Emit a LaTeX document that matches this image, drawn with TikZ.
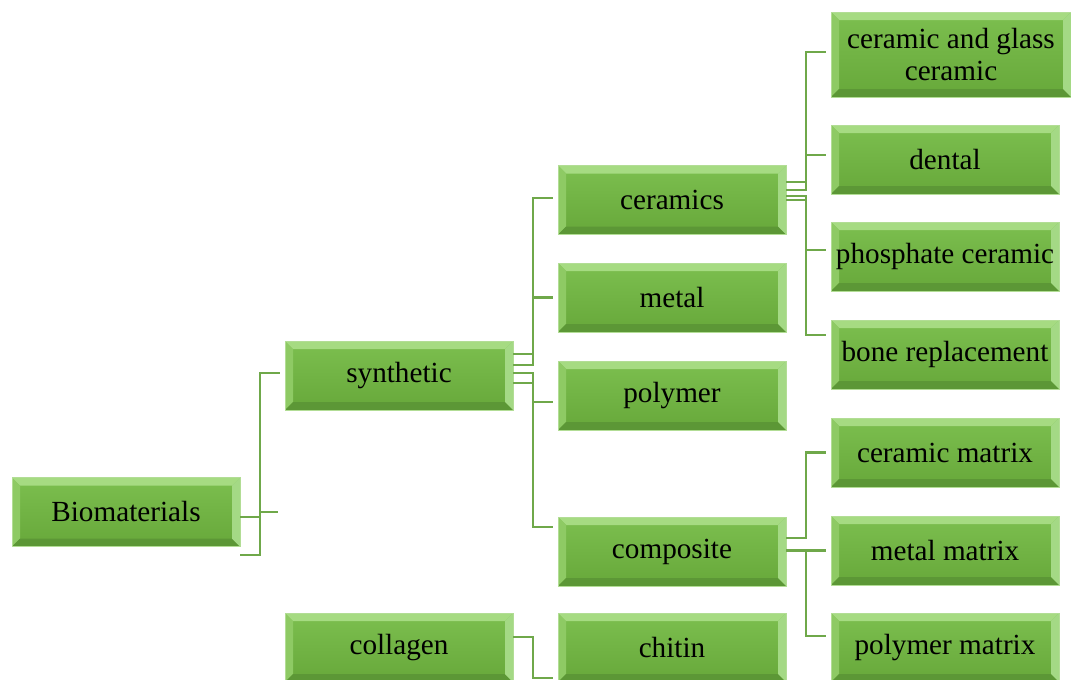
\documentclass[tikz,border=0pt]{standalone}
\usepackage{fontspec}
\setmainfont{Liberation Serif}
\definecolor{facetop}{HTML}{7CBF4F}
\definecolor{facebot}{HTML}{67A83A}
\definecolor{bevtop}{HTML}{A6DB82}
\definecolor{bevleft}{HTML}{8ECA64}
\definecolor{bevbot}{HTML}{5C9736}
\definecolor{bevright}{HTML}{A4D985}
\definecolor{edgegreen}{HTML}{B2DD95}
\definecolor{linkgreen}{HTML}{6FA84A}

\tikzset{
  bevel/.style={path picture={
    \path (path picture bounding box.north west) coordinate (bnw)
          (path picture bounding box.north east) coordinate (bne)
          (path picture bounding box.south west) coordinate (bsw)
          (path picture bounding box.south east) coordinate (bse);
    \fill[bevtop] (bnw) -- (bne) -- ([xshift=-4pt,yshift=-4pt]bne) -- ([xshift=4pt,yshift=-4pt]bnw) -- cycle;
    \fill[bevleft] (bnw) -- ([xshift=4pt,yshift=-4pt]bnw) -- ([xshift=4pt,yshift=4pt]bsw) -- (bsw) -- cycle;
    \fill[bevbot] (bsw) -- ([xshift=4pt,yshift=4pt]bsw) -- ([xshift=-4pt,yshift=4pt]bse) -- (bse) -- cycle;
    \fill[bevright] (bne) -- (bse) -- ([xshift=-4pt,yshift=4pt]bse) -- ([xshift=-4pt,yshift=-4pt]bne) -- cycle;
  }},
}

\begin{document}
\begin{tikzpicture}[
  x=0.5pt, y=-0.5pt,
  block/.style={rectangle, draw=edgegreen, line width=0.5pt,
                top color=facetop, bottom color=facebot, bevel,
                minimum width=114pt, minimum height=34.5pt,
                inner sep=0pt, outer sep=0pt, align=center,
                font=\fontsize{14.6}{16}\selectfont},
  link/.style={draw=linkgreen, line width=1.3pt},
  into/.style={link, shorten >=2.5pt}
]
  \useasboundingbox (0,0) rectangle (1071,680);

  % first and second level
  \node[block] (bio) at (126,512) {Biomaterials};
  \node[block] (synth) at (399,375.5) {synthetic};
  \node[block] (coll) at (399,647.5) {collagen};

  % synthetic branch
  \node[block] (cer) at (672,200) {ceramics};
  \node[block] (met) at (672,297.5) {metal};
  \node[block] (poly) at (672,395.5) {polymer};
  \node[block] (comp) at (672,551.5) {composite};
  \node[block] (chit) at (672,647.5) {chitin};

  % ceramics and composite leaves
  \node[block, minimum width=120pt, minimum height=42.5pt] (glass) at (951,54.5) {ceramic and glass\\ceramic};
  \node[block] (dent) at (945,159.5) {dental};
  \node[block] (phos) at (945,256.5) {phosphate ceramic};
  \node[block] (bone) at (945,354.5) {bone replacement};
  \node[block] (cmat) at (945,452.5) {ceramic matrix};
  \node[block] (mmat) at (945,550.5) {metal matrix};
  \node[block] (pmat) at (945,647.5) {polymer matrix};

  % connectors
  \draw[into] ([yshift=-2.5pt]bio.east) -- ++(10pt,0) |- ([yshift=1.25pt]synth.west);
  \draw[link] ([xshift=10pt]bio.east) -- ++(9pt,0);
  \draw[link] ([yshift=-4.25pt]bio.south east) -| ([xshift=10pt,yshift=-2.5pt]bio.east);

  \draw[into] ([yshift=10.75pt]synth.east) -- ++(10pt,0) |- ([yshift=1pt]cer.west);
  \draw[into] ([yshift=5.25pt]synth.east) -- ++(10pt,0) |- (met.west);
  \draw[into] ([yshift=1.25pt]synth.east) -- ++(10pt,0) |- ([yshift=-3.25pt]poly.west);
  \draw[into] ([yshift=-3.75pt]synth.east) -- ++(10pt,0) |- ([yshift=12.25pt]comp.west);

  \draw[into] ([yshift=9pt]cer.east) -- ++(10pt,0) |- ([yshift=1.25pt]glass.west);
  \draw[into] ([yshift=5pt]cer.east) -- ++(10pt,0) |- ([yshift=2.25pt]dent.west);
  \draw[into] ([yshift=2pt]cer.east) -- ++(10pt,0) |- ([yshift=3.25pt]phos.west);
  \draw[into] (cer.east) -- ++(10pt,0) |- ([yshift=9.75pt]bone.west);

  \draw[into] ([yshift=6.75pt]comp.east) -- ++(10pt,0) |- (cmat.west);
  \draw[into] ([yshift=0.5pt]comp.east) -- (mmat.west);
  \draw[into] ([yshift=0.5pt]comp.east) -- ++(10pt,0) |- ([yshift=5.75pt]pmat.west);

  \draw[into] ([yshift=5.25pt]coll.east) -- ++(10pt,0) |- ([yshift=-15.25pt]chit.west);
\end{tikzpicture}
\end{document}
